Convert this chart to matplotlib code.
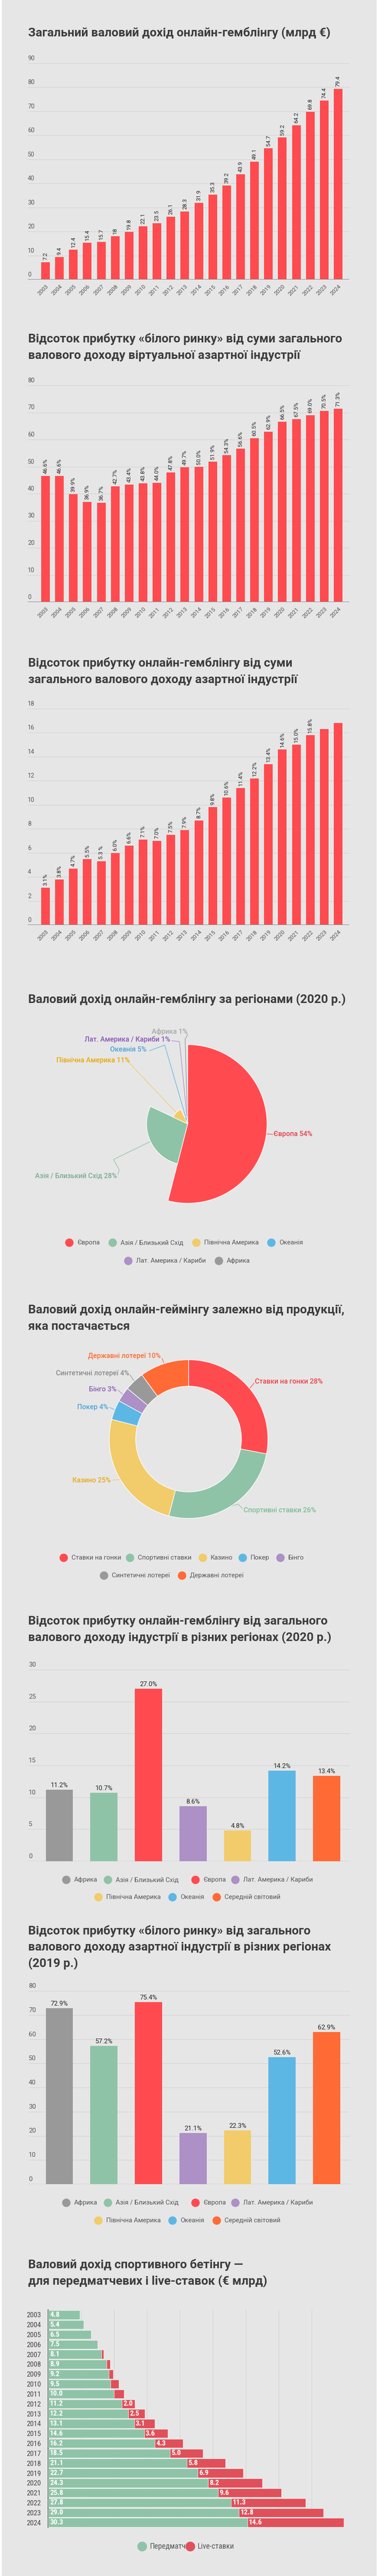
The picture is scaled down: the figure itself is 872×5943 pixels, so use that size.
import numpy as np
import matplotlib.pyplot as plt
from matplotlib.patches import Wedge, Circle, Rectangle

plt.rcParams['font.family'] = ['Roboto', 'DejaVu Sans']

W, H = 872, 5943
BG = '#e6e6e6'
RED = '#ff4b4f'
GREEN = '#8fc3a7'
YELLOW = '#f2cb6a'
BLUE = '#5db7e5'
PURPLE = '#ac90c6'
GRAY = '#999999'
ORANGE = '#ff6a35'
LIVE_RED = '#e0505a'
TITLE_C = '#3d3d3d'
TICK_C = '#555555'
GRID_C = '#d2d2d2'
NARROW = ['Roboto Condensed', 'Roboto', 'DejaVu Sans']

# ---- data ----
years = [str(y) for y in range(2003, 2025)]
ggr_total = [7.2, 9.4, 12.4, 15.4, 15.7, 18, 19.8, 22.1, 23.5, 26.1, 28.3, 31.9,
             35.3, 39.2, 43.9, 49.1, 54.7, 59.2, 64.2, 69.8, 74.4, 79.4]
white_share = [46.6, 46.6, 39.9, 36.9, 36.7, 42.7, 43.4, 43.8, 44.0, 47.8, 49.7, 50.0,
               51.9, 54.3, 56.6, 60.5, 62.9, 66.5, 67.5, 69.0, 70.5, 71.3]
online_share = [3.1, 3.8, 4.7, 5.5, 5.3, 6.0, 6.6, 7.1, 7.0, 7.5, 7.9, 8.7,
                9.8, 10.6, 11.4, 12.2, 13.4, 14.6, 15.0, 15.8, 16.3, 16.8]
online_share_labels = ['3.1%', '3.8%', '4.7%', '5.5%', '5.3 %', '6.0%', '6.6%', '7.1%',
                       '7.0%', '7.5%', '7.9%', '8.7%', '9.8%', '10.6%', '11.4%', '12.2%',
                       '13.4%', '14.6%', '15.0%', '15.8%', '', '']

pie_regions = ['Європа', 'Азія / Близький Схід', 'Північна Америка', 'Океанія',
               'Лат. Америка / Кариби', 'Африка']
pie_values = [54, 28, 11, 5, 1, 1]
pie_colors = [RED, GREEN, YELLOW, BLUE, PURPLE, GRAY]
pie_label_colors = ['#e8404a', '#7aab92', '#e8a800', '#4aa3d8', '#8755b8', '#a8a8a8']

products = ['Ставки на гонки', 'Спортивні ставки', 'Казино', 'Покер', 'Бінго',
            'Синтетичні лотереї', 'Державні лотереї']
product_values = [28, 26, 25, 4, 3, 4, 10]
product_colors = [RED, GREEN, YELLOW, BLUE, PURPLE, GRAY, ORANGE]
product_label_colors = ['#ee4049', '#7dbd98', '#eaa91a', '#4aa6dc', '#8a60b8', '#8a8a8a', ORANGE]

regions = ['Африка', 'Азія / Близький Схід', 'Європа', 'Лат. Америка / Кариби',
           'Північна Америка', 'Океанія', 'Середній світовий']
region_colors = [GRAY, GREEN, RED, PURPLE, YELLOW, BLUE, ORANGE]
online_region_share = [11.2, 10.7, 27.0, 8.6, 4.8, 14.2, 13.4]
white_region_share = [72.9, 57.2, 75.4, 21.1, 22.3, 52.6, 62.9]

prematch = [4.8, 5.4, 6.5, 7.5, 8.1, 8.9, 9.2, 9.5, 10.0, 11.2, 12.2, 13.1,
            14.6, 16.2, 18.5, 21.1, 22.7, 24.3, 25.8, 27.8, 29.0, 30.3]
live = [0, 0, 0, 0.1, 0.3, 0.5, 0.7, 1.2, 1.5, 2.0, 2.5, 3.1,
        3.6, 4.3, 5.0, 5.8, 6.9, 8.2, 9.6, 11.3, 12.8, 14.6]


def px(size):
    return size * 0.72


fig = plt.figure(figsize=(W / 100, H / 100), dpi=100, facecolor=BG)

# overlay in pixel coordinates for titles, legends, leader lines
ov = fig.add_axes([0, 0, 1, 1])
ov.set_xlim(0, W)
ov.set_ylim(H, 0)
ov.axis('off')
ov.add_patch(Rectangle((0, 0), 3, H, color='white'))
ov.add_patch(Rectangle((W - 3, 0), 3, H, color='white'))


def add_ax(left, top, right, bottom):
    ax = fig.add_axes([left / W, 1 - bottom / H, (right - left) / W, (bottom - top) / H])
    ax.set_facecolor('none')
    return ax


def title(lines, y0, dy=38):
    for i, line in enumerate(lines):
        ov.text(65, y0 + i * dy, line, fontsize=px(28), weight='bold', color=TITLE_C,
                ha='left', va='center')


def legend_row(items, y, d=18, size=15):
    for x, name, color in items:
        ov.add_patch(Circle((x, y), d / 2, color=color))
        ov.text(x + d / 2 + 9, y, name, fontsize=px(size), color=TICK_C, ha='left', va='center')


def y_grid(ax, ymax, step, size):
    for v in range(step, ymax + 1, step):
        ax.axhline(v, color=GRID_C, lw=0.8, zorder=1)
    for v in range(0, ymax + 1, step):
        ax.annotate(str(v), (0, v), xycoords=('axes fraction', 'data'), xytext=(0, 4),
                    textcoords='offset pixels', fontsize=px(size), color=TICK_C,
                    ha='left', va='bottom')


def year_panel(top, bottom, values, labels, ymax, step):
    ax = add_ax(64, top, 806, bottom)
    x = np.arange(len(years))
    ax.bar(x, values, width=0.62, color=RED, zorder=3)
    ax.set_xlim(-1.276, 21.81)
    ax.set_ylim(0, ymax)
    y_grid(ax, ymax, step, 14)
    ax.axhline(0, color='#8a8a8a', lw=2.2, zorder=4)
    for xi, v, lab in zip(x, values, labels):
        if lab:
            ax.annotate(lab, (xi, v), xytext=(0, 5), textcoords='offset pixels', rotation=90,
                        ha='center', va='bottom', fontsize=px(13), color='#222222')
    ax.set_xticks(x, years, rotation=45, ha='right', rotation_mode='anchor',
                  fontsize=px(13), color=TICK_C)
    ax.tick_params(axis='x', length=0, pad=7)
    ax.set_yticks([])
    for s in ax.spines.values():
        s.set_visible(False)
    return ax


def region_panel(top, bottom, values, ymax, step):
    ax = add_ax(66, top, 807, bottom)
    x = np.arange(len(regions))
    ax.bar(x, values, width=0.61, color=region_colors, zorder=3)
    ax.set_xlim(-0.69, 6.52)
    ax.set_ylim(0, ymax)
    y_grid(ax, ymax, step, 15)
    ax.axhline(0, color=GRID_C, lw=1.2, zorder=2)
    for xi, v in zip(x, values):
        ax.annotate(f'{v:.1f}%', (xi, v), xytext=(0, 3), textcoords='offset pixels',
                    ha='center', va='bottom', fontsize=px(15), color='#222222')
    ax.set_xticks([])
    ax.set_yticks([])
    for s in ax.spines.values():
        s.set_visible(False)
    return ax


# ---- 1-3: yearly bars ----
title(['Загальний валовий дохід онлайн-гемблінгу (млрд €)'], 76)
year_panel(146, 645, ggr_total, [f'{v:g}' for v in ggr_total], 90, 10)

title(['Відсоток прибутку «білого ринку» від суми загального',
       'валового доходу віртуальної азартної індустрії'], 782)
year_panel(889, 1389, white_share, [f'{v:.1f}%' for v in white_share], 80, 10)

title(['Відсоток прибутку онлайн-гемблінгу від суми',
       'загального валового доходу азартної індустрії'], 1530)
year_panel(1635, 2134, online_share, online_share_labels, 18, 2)

# ---- 4: regional pie (radius follows value) ----
title(['Валовий дохід онлайн-гемблінгу за регіонами (2020 р.)'], 2306)
cx, cy = 433, 2593
pax = add_ax(0, cy - 300, W, cy + 300)
pax.set_xlim(-cx, W - cx)
pax.set_ylim(-300, 300)
pax.axis('off')
scale = 183 / max(pie_values)
pie_layout = [
    ([(629, 2617)], (631, 2616), 'left'),
    ([(262, 2675), (275, 2699), (272, 2709)], (270, 2713), 'right'),
    ([(297, 2451)], (299, 2446), 'right'),
    ([(380, 2411), (345, 2424)], (338, 2421), 'right'),
    ([(414, 2403), (396, 2401)], (393, 2398), 'right'),
    ([(427, 2398), (433, 2386)], (433, 2380), 'right'),
]
start = 90
for name, v, c, lc, (path, tpos, ha) in zip(pie_regions, pie_values, pie_colors,
                                            pie_label_colors, pie_layout):
    end = start - v * 3.6
    r = v * scale
    pax.add_patch(Wedge((0, 0), r, end, start, facecolor=c, edgecolor='white', lw=1))
    mid = np.radians((start + end) / 2)
    p0 = (cx + r * np.cos(mid), cy - r * np.sin(mid))
    pts = [p0] + path
    ov.plot([p[0] for p in pts], [p[1] for p in pts], color=c, lw=1)
    ov.text(tpos[0], tpos[1], f'{name} {v}%', color=lc, fontsize=px(16), weight='medium',
            ha=ha, va='center')
    start = end

legend_row([(160, 'Європа', RED), (260, 'Азія / Близький Схід', GREEN),
            (453, 'Північна Америка', YELLOW), (626, 'Океанія', BLUE)], 2867)
legend_row([(296, 'Лат. Америка / Кариби', PURPLE), (505, 'Африка', GRAY)], 2909)

# ---- 5: product donut ----
title(['Валовий дохід онлайн-геймінгу залежно від продукції,', 'яка постачається'], 3023)
dx, dy = 435, 3320
dax = add_ax(0, dy - 300, W, dy + 300)
dax.pie(product_values, colors=product_colors, startangle=90, counterclock=False,
        radius=183, wedgeprops=dict(width=61, edgecolor='white', linewidth=1))
dax.set_xlim(-dx, W - dx)
dax.set_ylim(-300, 300)
dax.axis('off')
donut_layout = [
    ([(586, 3191)], (588, 3188), 'left'),
    ([(549, 3470), (559, 3480)], (562, 3484), 'left'),
    ([(259, 3415)], (255, 3415), 'right'),
    ([(253, 3247)], (250, 3246), 'right'),
    ([(272, 3207)], (269, 3205), 'right'),
    ([(300, 3172)], (298, 3169), 'right'),
    ([(374, 3134)], (371, 3128), 'right'),
]
start = 90
for name, v, c, lc, (path, tpos, ha) in zip(products, product_values, product_colors,
                                            product_label_colors, donut_layout):
    end = start - v * 3.6
    mid = np.radians((start + end) / 2)
    p0 = (dx + 183 * np.cos(mid), dy - 183 * np.sin(mid))
    pts = [p0] + path
    ov.plot([p[0] for p in pts], [p[1] for p in pts], color=c, lw=1)
    ov.text(tpos[0], tpos[1], f'{name} {v}%', color=lc, fontsize=px(16), weight='medium',
            ha=ha, va='center')
    start = end

legend_row([(147, 'Ставки на гонки', RED), (300, 'Спортивні ставки', GREEN),
            (468, 'Казино', YELLOW), (560, 'Покер', BLUE), (647, 'Бінго', PURPLE)], 3594)
legend_row([(240, 'Синтетичні лотереї', GRAY), (420, 'Державні лотереї', ORANGE)], 3635)

# ---- 6-7: regional bars ----
reg_leg1 = [(153, regions[0], GRAY), (249, regions[1], GREEN), (451, regions[2], RED),
            (543, regions[3], PURPLE)]
reg_leg2 = [(227, regions[4], YELLOW), (398, regions[5], BLUE), (500, regions[6], ORANGE)]

title(['Відсоток прибутку онлайн-гемблінгу від загального',
       'валового доходу індустрії в різних регіонах (2020 р.)'], 3740)
region_panel(3852, 4294, online_region_share, 30, 5)
legend_row(reg_leg1, 4337)
legend_row(reg_leg2, 4377)

title(['Відсоток прибутку «білого ринку» від загального',
       'валового доходу азартної індустрії в різних регіонах', '(2019 р.)'], 4455, dy=37.5)
region_panel(4593, 5039, white_region_share, 80, 10)
legend_row(reg_leg1, 5082)
legend_row(reg_leg2, 5123)

# ---- 8: sports betting stacked bars ----
title(['Валовий дохід спортивного бетінгу —', 'для передматчевих і live-ставок (€ млрд)'], 5225)
sax = add_ax(111, 5329, 840, 5831)
yy = np.arange(len(years))
pre = np.array(prematch)
lv = np.array(live)
sax.barh(yy, pre, height=0.9, color=GREEN, edgecolor='white', lw=0.5, zorder=3)
mask = lv > 0
sax.barh(yy[mask], lv[mask], left=pre[mask], height=0.9, color=LIVE_RED,
         edgecolor='white', lw=0.5, zorder=3)
sax.set_ylim(len(years) - 0.5, -0.5)
sax.set_xlim(0, 48)
for v in range(5, 41, 5):
    sax.axvline(v, color=GRID_C, lw=0.8, zorder=1)
for yi, p, l in zip(yy, pre, lv):
    sax.annotate(f'{p:.1f}', (0, yi), xytext=(4, 0), textcoords='offset pixels', va='center',
                 ha='left', color='white', weight='bold', family=NARROW, fontsize=px(17), zorder=5)
    if l >= 2:
        sax.annotate(f'{l:.1f}', (p, yi), xytext=(3, 0), textcoords='offset pixels',
                     va='center', ha='left', color='white', weight='bold', family=NARROW,
                     fontsize=px(17), zorder=5)
sax.set_yticks(yy, years, family=NARROW, fontsize=px(17), color='#444444')
sax.tick_params(axis='y', length=0, pad=12)
sax.set_xticks([])
for s in ['top', 'right', 'bottom']:
    sax.spines[s].set_visible(False)
sax.spines['left'].set_color('#444444')
sax.spines['left'].set_linewidth(1.5)

for x, name, color in [(328, 'Передматч', GREEN), (439, 'Live-ставки', LIVE_RED)]:
    ov.add_patch(Circle((x, 5875), 10.5, color=color))
    ov.text(x + 17, 5875, name, fontsize=px(18), family=NARROW, color=TICK_C,
            ha='left', va='center')

fig.savefig('out.png', dpi=100, facecolor=BG)
